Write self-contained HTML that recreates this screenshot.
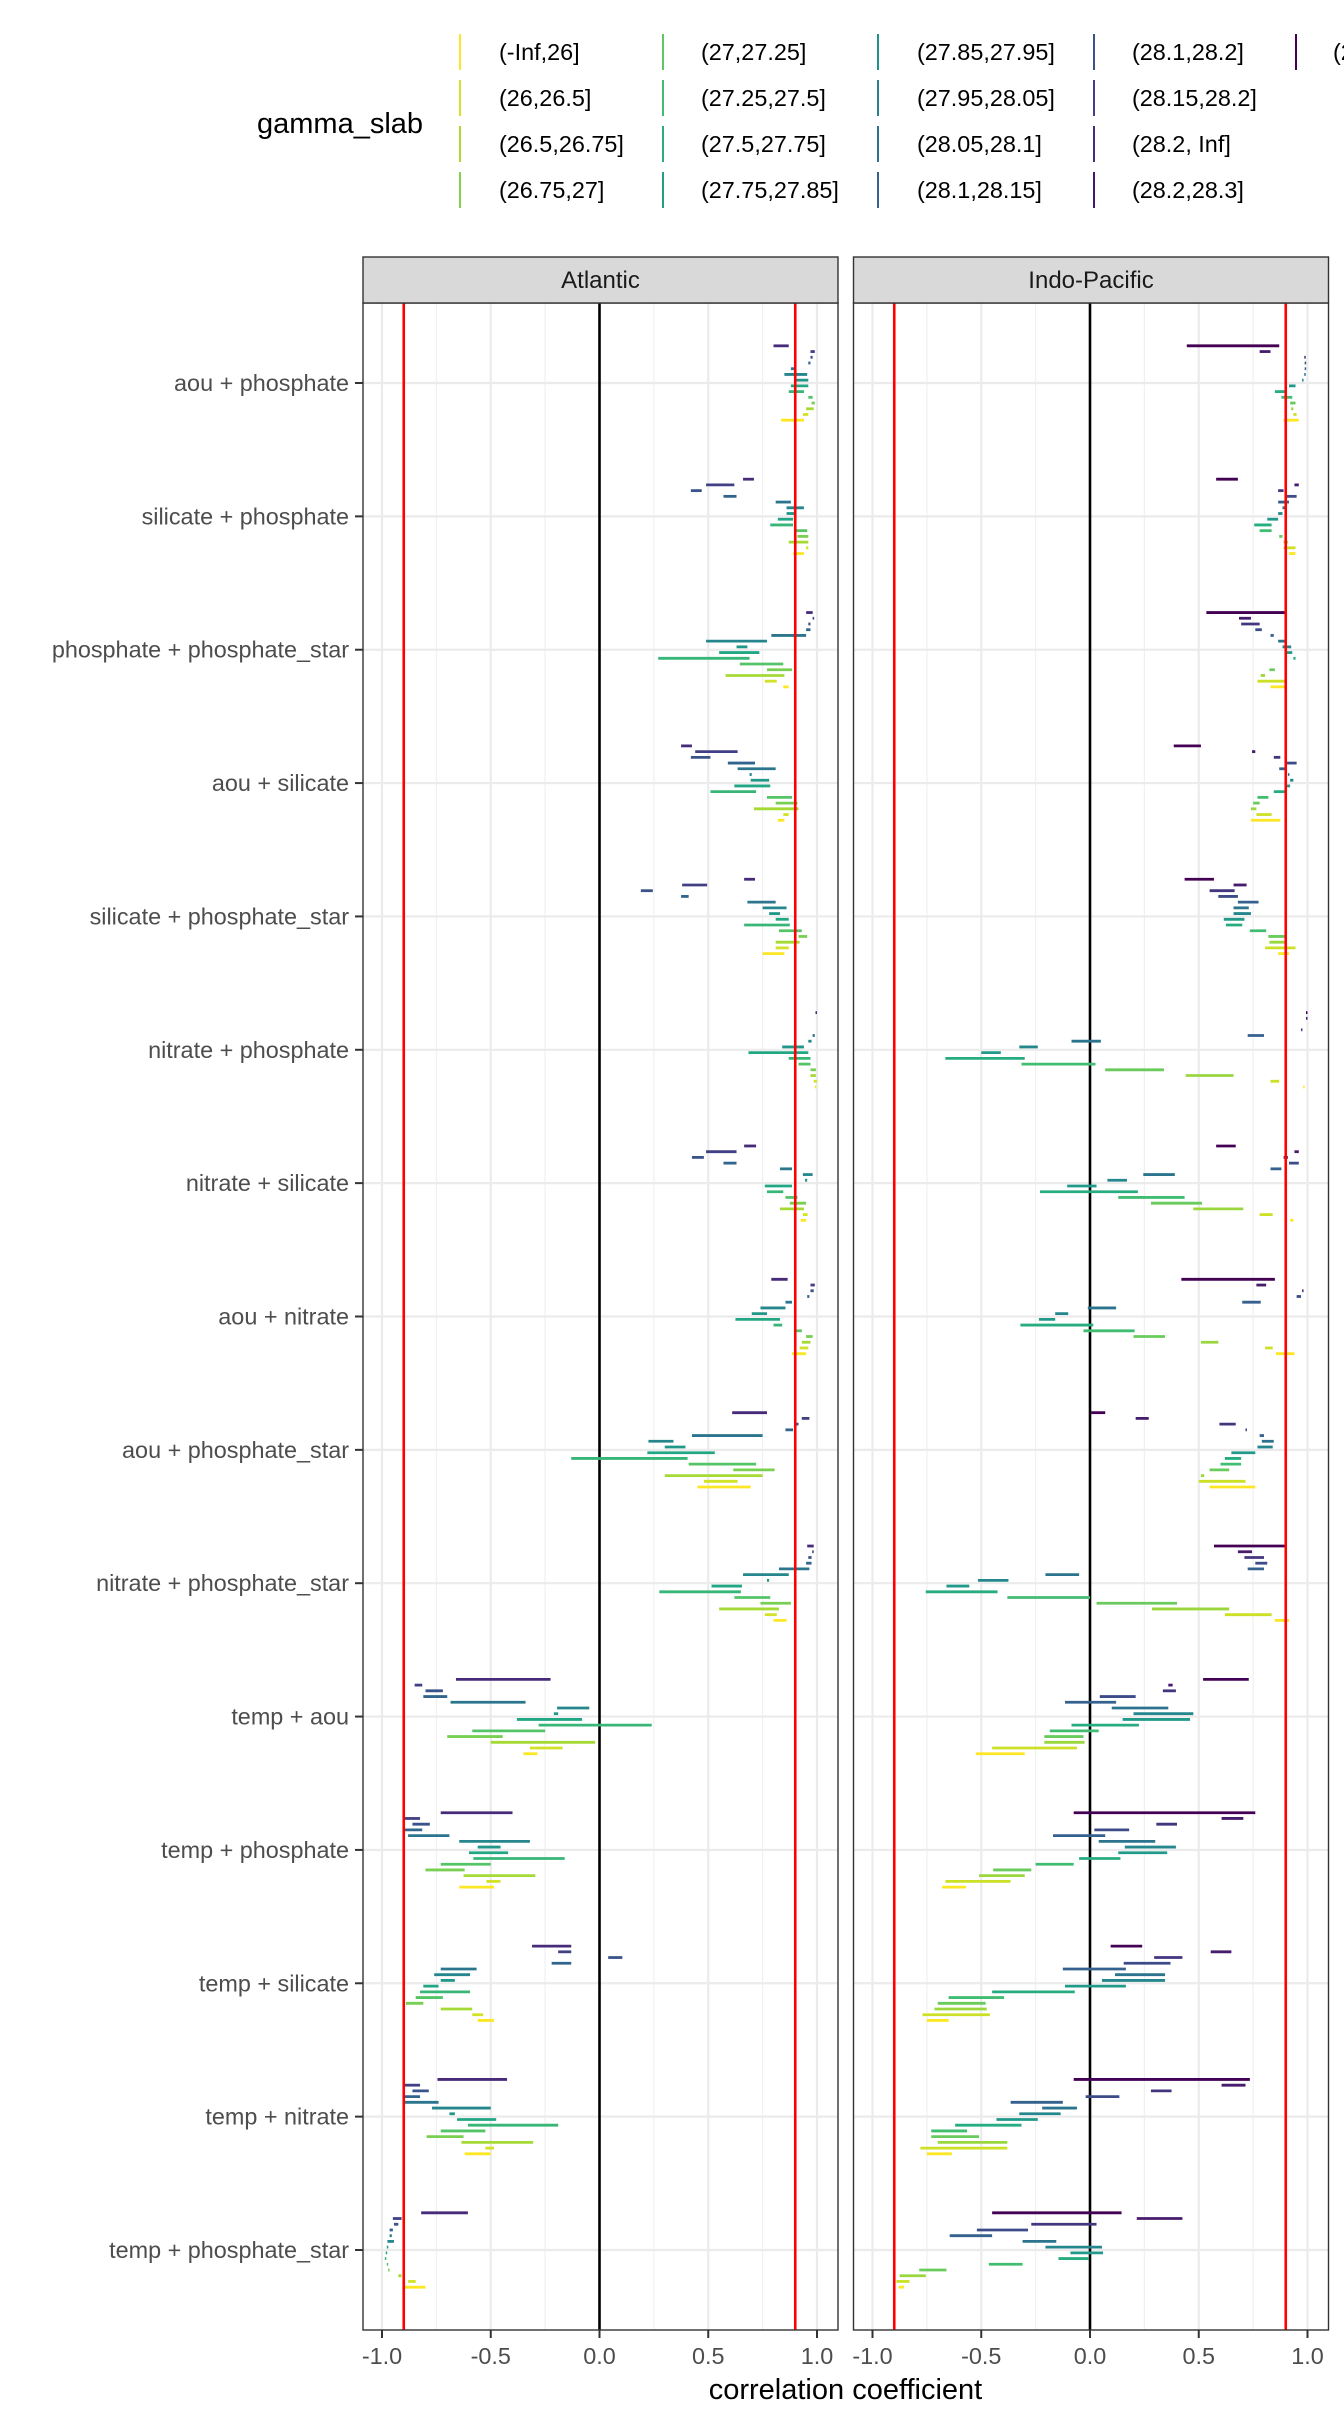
<!DOCTYPE html>
<html><head><meta charset="utf-8">
<style>
html,body{margin:0;padding:0;background:#fff;}
svg{display:block;font-family:"Liberation Sans",sans-serif;}
</style></head>
<body>
<svg id="chart" width="1344" height="2419" viewBox="0 0 1344 2419" xmlns="http://www.w3.org/2000/svg">
<g id="legend"></g>
<g id="panels"></g>
</svg>
<script>
// ---------- data ----------
const categories = ["aou + phosphate","silicate + phosphate","phosphate + phosphate_star","aou + silicate","silicate + phosphate_star","nitrate + phosphate","nitrate + silicate","aou + nitrate","aou + phosphate_star","nitrate + phosphate_star","temp + aou","temp + phosphate","temp + silicate","temp + nitrate","temp + phosphate_star"];
const legendLabels = ["(-Inf,26]","(26,26.5]","(26.5,26.75]","(26.75,27]","(27,27.25]","(27.25,27.5]","(27.5,27.75]","(27.75,27.85]","(27.85,27.95]","(27.95,28.05]","(28.05,28.1]","(28.1,28.15]","(28.1,28.2]","(28.15,28.2]","(28.2, Inf]","(28.2,28.3]","(28.3, Inf]"];
const xTicks = [-1.0,-0.5,0.0,0.5,1.0];
const xTickLabels = ["-1.0","-0.5","0.0","0.5","1.0"];
const xMinor = [-0.75,-0.25,0.25,0.75];
const refLines = [-0.9,0.9];
const atlanticRanges = [
[[0.80,0.87],[0.97,0.99],[0.97,0.98],[0.96,0.97],[0.88,0.90],[0.85,0.955],[0.90,0.96],[0.88,0.96],[0.87,0.94],[0.96,0.98],[0.975,0.99],[0.95,0.985],[0.935,0.96],[0.835,0.94]],
[[0.66,0.71],[0.49,0.62],[0.42,0.47],[0.57,0.63],[0.81,0.88],[0.86,0.94],[0.86,0.90],[0.82,0.89],[0.785,0.89],[0.90,0.955],[0.91,0.96],[0.87,0.96],[0.95,0.96],[0.89,0.94]],
[[0.95,0.98],[0.98,0.985],[0.96,0.97],[0.95,0.97],[0.79,0.95],[0.49,0.77],[0.63,0.68],[0.55,0.735],[0.27,0.69],[0.645,0.845],[0.77,0.885],[0.58,0.85],[0.76,0.815],[0.845,0.87]],
[[0.375,0.425],[0.44,0.635],[0.42,0.51],[0.59,0.715],[0.635,0.81],[0.69,0.70],[0.695,0.78],[0.62,0.785],[0.51,0.72],[0.77,0.885],[0.81,0.91],[0.71,0.915],[0.845,0.87],[0.82,0.85]],
[[0.665,0.715],[0.38,0.495],[0.19,0.245],[0.375,0.41],[0.68,0.81],[0.75,0.86],[0.78,0.83],[0.81,0.87],[0.665,0.875],[0.825,0.93],[0.915,0.955],[0.81,0.92],[0.81,0.87],[0.75,0.85]],
[[0.993,1.0],null,null,null,[0.98,0.99],[0.96,0.975],[0.84,0.94],[0.685,0.96],[0.87,0.97],[0.915,0.97],[0.97,0.995],[0.97,0.995],[0.985,1.0],[0.99,0.995]],
[[0.665,0.72],[0.49,0.63],[0.425,0.48],[0.57,0.63],[0.83,0.885],[0.935,0.98],[0.945,0.955],[0.76,0.885],[0.77,0.845],[0.855,0.91],[0.875,0.95],[0.83,0.94],[0.935,0.957],[0.925,0.95]],
[[0.79,0.865],[0.97,0.99],[0.97,0.985],[0.955,0.965],[0.855,0.885],[0.74,0.855],[0.70,0.77],[0.625,0.83],[0.80,0.84],[0.895,0.93],[0.95,0.98],[0.93,0.97],[0.92,0.96],[0.885,0.95]],
[[0.61,0.77],[0.93,0.965],[0.905,0.915],[0.855,0.89],[0.425,0.75],[0.225,0.34],[0.30,0.395],[0.22,0.53],[-0.13,0.405],[0.41,0.72],[0.615,0.805],[0.30,0.75],[0.48,0.635],[0.45,0.695]],
[[0.955,0.985],[0.978,0.984],[0.96,0.975],[0.95,0.975],[0.825,0.965],[0.66,0.87],[0.77,0.78],[0.515,0.655],[0.275,0.65],[0.62,0.785],[0.74,0.88],[0.55,0.825],[0.76,0.815],[0.80,0.86]],
[[-0.66,-0.225],[-0.85,-0.815],[-0.80,-0.72],[-0.81,-0.70],[-0.685,-0.34],[-0.195,-0.047],[-0.21,-0.19],[-0.38,-0.08],[-0.28,0.24],[-0.585,-0.25],[-0.70,-0.445],[-0.50,-0.02],[-0.32,-0.17],[-0.35,-0.285]],
[[-0.73,-0.40],[-0.895,-0.825],[-0.86,-0.78],[-0.895,-0.815],[-0.88,-0.69],[-0.645,-0.32],[-0.56,-0.455],[-0.60,-0.42],[-0.58,-0.16],[-0.73,-0.50],[-0.80,-0.62],[-0.625,-0.295],[-0.52,-0.455],[-0.645,-0.485]],
[[-0.31,-0.13],[-0.19,-0.13],[0.04,0.105],[-0.22,-0.13],[-0.73,-0.565],[-0.76,-0.595],[-0.73,-0.665],[-0.81,-0.74],[-0.825,-0.595],[-0.845,-0.72],[-0.89,-0.81],[-0.73,-0.585],[-0.585,-0.535],[-0.56,-0.485]],
[[-0.745,-0.425],[-0.895,-0.825],[-0.86,-0.785],[-0.90,-0.825],[-0.905,-0.74],[-0.77,-0.50],[-0.69,-0.665],[-0.655,-0.475],[-0.605,-0.19],[-0.73,-0.525],[-0.795,-0.625],[-0.635,-0.305],[-0.525,-0.485],[-0.62,-0.50]],
[[-0.82,-0.605],[-0.95,-0.91],[-0.945,-0.925],[-0.965,-0.95],[-0.965,-0.955],[-0.975,-0.945],[-0.978,-0.972],[-0.983,-0.977],[-0.987,-0.981],[-0.978,-0.972],[-0.972,-0.965],[-0.925,-0.91],[-0.88,-0.845],[-0.905,-0.80]]
];
const indoRanges = [
[[0.445,0.87],[0.78,0.83],[0.985,0.99],[0.987,0.992],[0.987,0.991],[0.985,0.989],[0.975,0.98],[0.915,0.945],[0.85,0.90],[0.88,0.93],[0.92,0.945],[0.925,0.935],[0.935,0.95],[0.89,0.96]],
[[0.58,0.68],[0.94,0.96],[0.865,0.89],[0.90,0.95],[0.865,0.915],[0.885,0.895],[0.865,0.885],[0.815,0.865],[0.755,0.835],[0.78,0.835],[0.87,0.885],[0.89,0.91],[0.89,0.945],[0.915,0.945]],
[[0.535,0.895],[0.685,0.74],[0.695,0.78],[0.76,0.79],[0.83,0.845],[0.865,0.905],[0.885,0.925],[0.895,0.93],[0.935,0.945],[0.898,0.904],[0.825,0.85],[0.785,0.805],[0.77,0.895],[0.83,0.905]],
[[0.385,0.51],[0.745,0.76],[0.845,0.875],[0.90,0.95],[0.87,0.905],[0.91,0.915],[0.92,0.935],[0.895,0.92],[0.845,0.90],[0.77,0.82],[0.75,0.78],[0.74,0.765],[0.765,0.835],[0.74,0.875]],
[[0.435,0.57],[0.66,0.72],[0.55,0.665],[0.59,0.68],[0.68,0.775],[0.66,0.73],[0.66,0.74],[0.615,0.71],[0.625,0.70],[0.735,0.81],[0.82,0.90],[0.825,0.905],[0.805,0.945],[0.865,0.915]],
[[0.993,0.998],[0.993,0.998],null,[0.97,0.975],[0.725,0.80],[-0.085,0.05],[-0.325,-0.24],[-0.50,-0.41],[-0.665,-0.30],[-0.315,0.025],[0.07,0.34],[0.44,0.66],[0.83,0.87],[0.98,0.985]],
[[0.58,0.67],[0.94,0.96],[0.89,0.91],[0.915,0.96],[0.83,0.88],[0.245,0.39],[0.08,0.17],[-0.105,0.03],[-0.23,0.22],[0.13,0.435],[0.28,0.515],[0.475,0.705],[0.78,0.84],[0.92,0.935]],
[[0.42,0.85],[0.765,0.81],[0.975,0.98],[0.95,0.97],[0.70,0.785],[-0.01,0.12],[-0.16,-0.10],[-0.235,-0.16],[-0.32,0.015],[-0.03,0.205],[0.20,0.345],[0.51,0.59],[0.805,0.84],[0.855,0.94]],
[[0.005,0.07],[0.21,0.27],[0.595,0.67],[0.715,0.72],[0.78,0.80],[0.79,0.845],[0.77,0.84],[0.65,0.76],[0.62,0.695],[0.60,0.695],[0.55,0.64],[0.51,0.525],[0.50,0.715],[0.55,0.76]],
[[0.57,0.90],[0.68,0.745],[0.71,0.80],[0.76,0.815],[0.725,0.80],[-0.205,-0.05],[-0.515,-0.375],[-0.66,-0.555],[-0.755,-0.425],[-0.38,0.0],[0.03,0.40],[0.285,0.64],[0.62,0.835],[0.85,0.915]],
[[0.52,0.73],[0.36,0.38],[0.335,0.395],[0.045,0.21],[-0.115,0.12],[0.10,0.36],[0.20,0.475],[0.15,0.46],[-0.085,0.225],[-0.185,0.04],[-0.21,-0.03],[-0.21,-0.025],[-0.45,-0.06],[-0.525,-0.30]],
[[-0.075,0.76],[0.605,0.705],[0.305,0.40],[0.02,0.18],[-0.17,0.07],[0.04,0.30],[0.16,0.395],[0.13,0.355],[-0.05,0.14],[-0.25,-0.075],[-0.445,-0.27],[-0.51,-0.30],[-0.665,-0.365],[-0.68,-0.57]],
[[0.095,0.24],[0.555,0.65],[0.295,0.425],[0.155,0.37],[-0.125,0.165],[0.115,0.345],[0.055,0.345],[-0.115,0.165],[-0.45,-0.07],[-0.65,-0.395],[-0.70,-0.48],[-0.715,-0.475],[-0.77,-0.46],[-0.75,-0.65]],
[[-0.075,0.735],[0.605,0.715],[0.28,0.375],[-0.02,0.135],[-0.365,-0.125],[-0.22,-0.06],[-0.325,-0.135],[-0.43,-0.24],[-0.62,-0.315],[-0.73,-0.565],[-0.73,-0.51],[-0.70,-0.38],[-0.78,-0.38],[-0.75,-0.635]],
[[-0.45,0.145],[0.215,0.425],[-0.27,0.03],[-0.52,-0.285],[-0.645,-0.45],[-0.31,-0.155],[-0.205,0.055],[-0.09,0.06],[-0.145,-0.005],[-0.465,-0.31],[-0.785,-0.66],[-0.875,-0.755],[-0.89,-0.83],[-0.88,-0.855]]
];

// ---------- helpers ----------
const NS = "http://www.w3.org/2000/svg";
function mk(tag, attrs, parent){const e=document.createElementNS(NS,tag);for(const k in attrs)e.setAttribute(k,attrs[k]);parent.appendChild(e);return e;}
const vstops=[[0,"#440154"],[0.1,"#482475"],[0.2,"#414487"],[0.3,"#355F8D"],[0.4,"#2A788E"],[0.5,"#21918C"],[0.6,"#22A884"],[0.7,"#44BF70"],[0.8,"#7AD151"],[0.9,"#BDDF26"],[1,"#FDE725"]];
function hx(c){return [parseInt(c.slice(1,3),16),parseInt(c.slice(3,5),16),parseInt(c.slice(5,7),16)];}
function viridis(t){t=Math.max(0,Math.min(1,t));for(let i=0;i<vstops.length-1;i++){const a=vstops[i],b=vstops[i+1];if(t<=b[0]){const f=(t-a[0])/(b[0]-a[0]);const ca=hx(a[1]),cb=hx(b[1]);return "rgb("+ca.map((v,j)=>Math.round(v+(cb[j]-v)*f)).join(",")+")";}}return vstops[10][1];}

const panelTop=303, panelBottom=2330, stripTop=257;
const rowUnit=(panelBottom-panelTop)/(categories.length+0.2);
function yRow(i){return panelTop+(0.6+i)*rowUnit;}
const slotGap=5.72;
const panelsDef=[
 {name:"atlantic",title:"Atlantic",left:363,right:838,x0:599.5,ranges:atlanticRanges,tStart:0.12},
 {name:"indo-pacific",title:"Indo-Pacific",left:853.5,right:1328.5,x0:1090,ranges:indoRanges,tStart:0.0}
];
const xs=217.5;

const gP=document.getElementById("panels");
panelsDef.forEach((p,pi)=>{
 const X=v=>p.x0+v*xs;
 const g=mk("g",{},gP);
 
 
 mk("rect",{x:p.left,y:panelTop,width:p.right-p.left,height:panelBottom-panelTop,fill:"#fff"},g);
 xMinor.forEach(v=>{const l=mk("line",{x1:X(v),x2:X(v),y1:panelTop,y2:panelBottom,stroke:"#f0f0f0","stroke-width":1.2},g);
  
  });
 xTicks.forEach(v=>{const l=mk("line",{x1:X(v),x2:X(v),y1:panelTop,y2:panelBottom,stroke:"#ebebeb","stroke-width":2.2},g);
  
  });
 categories.forEach((c,i)=>{const l=mk("line",{x1:p.left,x2:p.right,y1:yRow(i),y2:yRow(i),stroke:"#ebebeb","stroke-width":2.2},g);
  
  });
 const z=mk("line",{x1:X(0),x2:X(0),y1:panelTop,y2:panelBottom,stroke:"#000","stroke-width":2.6},g);
 
 
 p.ranges.forEach((row,i)=>{
  const n=row.length;
  row.forEach((r,k)=>{
   if(!r) return;
   const y=yRow(i)+(k-(n-1)/2)*slotGap;
   const t=p.tStart+(1-p.tStart)*k/(n-1);
   const b=mk("line",{x1:X(r[0]),x2:Math.max(X(r[1]),X(r[0])+1.5),y1:y,y2:y,stroke:viridis(t),"stroke-width":2.8},g);
   
   
  });
 });
 refLines.forEach(v=>{const l=mk("line",{x1:X(v),x2:X(v),y1:panelTop,y2:panelBottom,stroke:"#ff0000","stroke-width":2.6},g);
  
  });
 mk("rect",{x:p.left,y:panelTop,width:p.right-p.left,height:panelBottom-panelTop,fill:"none",stroke:"#333","stroke-width":1.4},g);
 const s=mk("rect",{x:p.left,y:stripTop,width:p.right-p.left,height:panelTop-stripTop,fill:"#d9d9d9",stroke:"#333","stroke-width":1.4},g);
 
 
 const st=mk("text",{x:(p.left+p.right)/2,y:(stripTop+panelTop)/2+8,"text-anchor":"middle","font-size":24,fill:"#1a1a1a"},g);
 st.textContent=p.title;
 
 
 xTicks.forEach((v,j)=>{
  mk("line",{x1:X(v),x2:X(v),y1:panelBottom,y2:panelBottom+8,stroke:"#333","stroke-width":2},g);
  const t=mk("text",{x:X(v),y:panelBottom+34,"text-anchor":"middle","font-size":23.4,fill:"#4d4d4d"},g);
  t.textContent=xTickLabels[j];
  
  
 });
});
categories.forEach((c,i)=>{
 mk("line",{x1:355,x2:363,y1:yRow(i),y2:yRow(i),stroke:"#333","stroke-width":2},gP);
 const t=mk("text",{x:349,y:yRow(i)+8,"text-anchor":"end","font-size":23.4,fill:"#4d4d4d"},gP);
 t.textContent=c;
 
 
});
const xt=mk("text",{x:845.5,y:2399,"text-anchor":"middle","font-size":29,fill:"#000"},gP);
xt.textContent="correlation coefficient";



const gL=document.getElementById("legend");
const lt=mk("text",{x:257,y:133,"font-size":29,fill:"#000"},gL);
lt.textContent="gamma_slab";


const colKeyX=[460,663,878,1094,1296];
const colTextX=[499,701,917,1132,1333];
const rowY=[52,98,144,190];
legendLabels.forEach((lab,i)=>{
 const col=Math.floor(i/4), r=i%4;
 const e=mk("g",{},gL);
 
 
 mk("line",{x1:colKeyX[col],x2:colKeyX[col],y1:rowY[r]-18,y2:rowY[r]+18,stroke:viridis(1-i/16),"stroke-width":2},e);
 const t=mk("text",{x:colTextX[col],y:rowY[r]+8,"font-size":23.4,fill:"#000"},e);
 t.textContent=lab;
});
</script>
</body></html>
